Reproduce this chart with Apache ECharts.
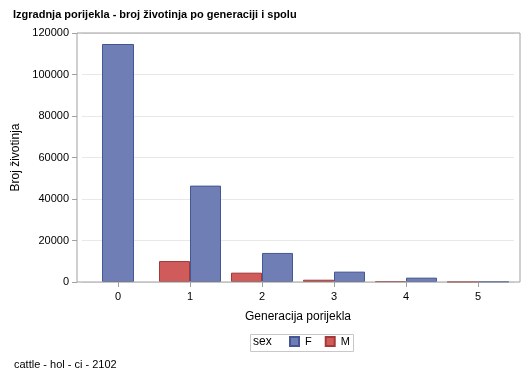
<!DOCTYPE html>
<html><head><meta charset="utf-8">
<script src="https://cdn.jsdelivr.net/npm/echarts@6/dist/echarts.min.js"></script>
<style>html,body{margin:0;padding:0;background:#fff}#c{width:529px;height:378px}</style>
</head><body><div id="c"></div>
<script>
var generations = ['0','1','2','3','4','5'];
var femaleCounts = [114700, 46450, 14000, 5000, 2100, 200];
var maleCounts = [null, 10100, 4500, 1100, 400, 100];
var yTicks = [0, 20000, 40000, 60000, 80000, 100000, 120000];

var FONT = '"Liberation Sans", Arial, sans-serif';
var fCol = '#6f7eb5', fBorder = '#445694';
var mCol = '#d05b5b', mBorder = '#a23a3a';

// F bars in categories where M is missing are drawn centred on their own
var fPaired = femaleCounts.map(function(v,i){ return maleCounts[i] == null ? '-' : v; });
var fAlone = femaleCounts.map(function(v,i){ return maleCounts[i] == null ? v : '-'; });
var mData = maleCounts.map(function(v){ return v == null ? '-' : v; });

var chart = echarts.init(document.getElementById('c'), null, {renderer:'canvas'});
chart.setOption({
  animation:false,
  textStyle:{fontFamily:FONT},
  title:[
    {text:'Izgradnja porijekla - broj životinja po generaciji i spolu', left:8, top:4,
     textStyle:{fontFamily:FONT,fontSize:11,fontWeight:'bold',color:'#000'}},
    {text:'cattle - hol - ci - 2102', left:9, top:354,
     textStyle:{fontFamily:FONT,fontSize:11,fontWeight:'normal',color:'#000'}},
    {text:'sex', left:248, top:331,
     textStyle:{fontFamily:FONT,fontSize:12,fontWeight:'normal',color:'#000'}}
  ],
  grid:[
    {left:82, right:15, top:33, bottom:96},
    {left:77, right:9, top:33, bottom:96, show:true, borderColor:'#a0a0a0', borderWidth:1, z:5}
  ],
  xAxis:[
    {type:'category', gridIndex:0, data:generations,
     name:'Generacija porijekla', nameLocation:'middle', nameGap:29,
     nameTextStyle:{fontFamily:FONT,fontSize:12,color:'#000'},
     axisLine:{show:false}, axisTick:{show:true,alignWithLabel:true,length:5,lineStyle:{color:'#a0a0a0'}},
     axisLabel:{fontFamily:FONT,fontSize:11,color:'#000',margin:9}},
    {type:'category', gridIndex:0, data:generations, show:false},
    {type:'value', gridIndex:1, show:false}
  ],
  yAxis:[
    {type:'value', gridIndex:0, min:0, max:120000, interval:20000, offset:5,
     name:'Broj životinja', nameLocation:'middle', nameGap:55, nameRotate:90,
     nameTextStyle:{fontFamily:FONT,fontSize:12,color:'#000'},
     axisLine:{show:false}, axisTick:{show:true,length:5,lineStyle:{color:'#a0a0a0'}},
     axisLabel:{fontFamily:FONT,fontSize:11,color:'#000',margin:8,
       formatter:function(v){ return yTicks.indexOf(v) >= 0 ? String(v) : ''; }},
     splitLine:{show:true,lineStyle:{color:'#e8e8e8',width:1}}},
    {type:'value', gridIndex:1, show:false}
  ],
  legend:{
    data:['F','M'], left:289, top:336, itemWidth:9, itemHeight:9, itemGap:13,
    textStyle:{fontFamily:FONT,fontSize:11,color:'#000',padding:[0,0,0,1]}, icon:'rect', padding:0
  },
  graphic:[
    {type:'rect', left:248, top:332, shape:{width:103,height:17},
     style:{fill:'none',stroke:'#c8c8c8',lineWidth:1}}
  ],
  series:[
    {name:'M', type:'bar', xAxisIndex:0, yAxisIndex:0, data:mData, barWidth:31, barGap:'0%',
     itemStyle:{color:mCol,borderColor:mBorder,borderWidth:1}},
    {name:'F', type:'bar', xAxisIndex:0, yAxisIndex:0, data:fPaired, barWidth:31, barGap:'0%',
     itemStyle:{color:fCol,borderColor:fBorder,borderWidth:1}},
    {name:'F', type:'bar', xAxisIndex:1, yAxisIndex:0, data:fAlone, barWidth:32,
     itemStyle:{color:fCol,borderColor:fBorder,borderWidth:1}}
  ]
});
</script></body></html>
